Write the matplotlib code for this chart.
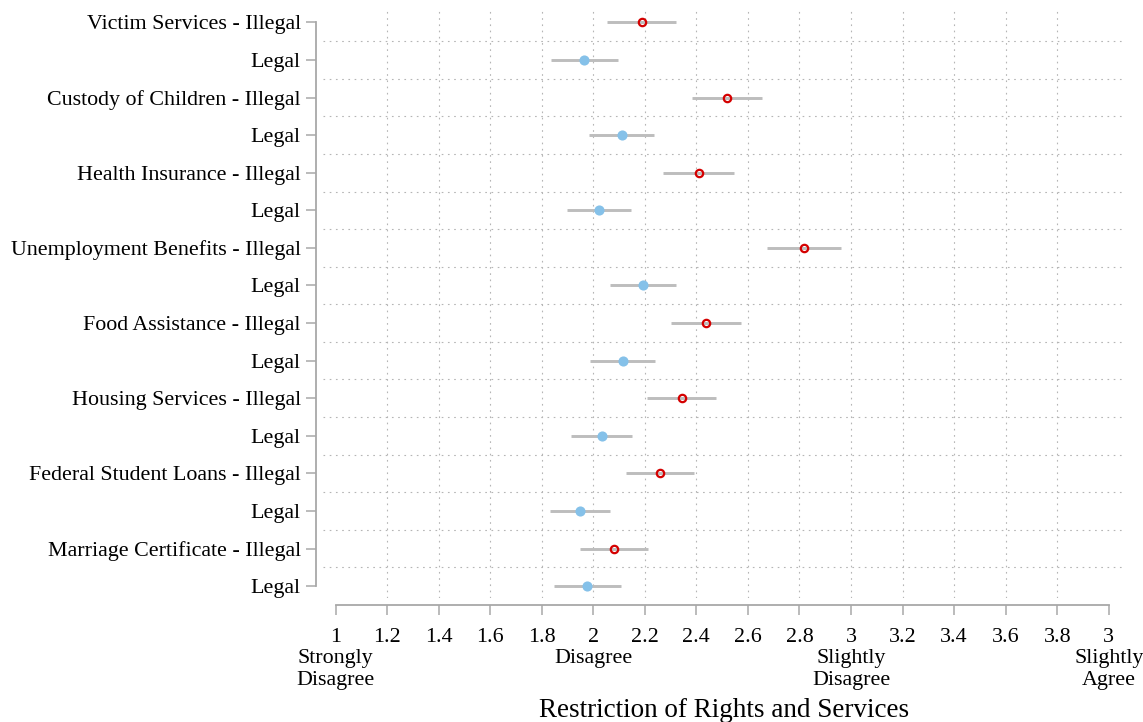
import matplotlib
matplotlib.use("Agg")
import matplotlib.pyplot as plt
import numpy as np

services = ["Victim Services", "Custody of Children", "Health Insurance",
            "Unemployment Benefits", "Food Assistance", "Housing Services",
            "Federal Student Loans", "Marriage Certificate"]
illegal_mean = [2.188, 2.519, 2.409, 2.817, 2.436, 2.343, 2.258, 2.082]
illegal_lo = [2.053, 2.382, 2.270, 2.673, 2.301, 2.210, 2.127, 1.949]
illegal_hi = [2.322, 2.656, 2.546, 2.963, 2.574, 2.477, 2.390, 2.214]
legal_mean = [1.964, 2.110, 2.021, 2.193, 2.116, 2.032, 1.950, 1.977]
legal_lo = [1.836, 1.985, 1.897, 2.065, 1.989, 1.913, 1.834, 1.849]
legal_hi = [2.095, 2.237, 2.145, 2.320, 2.240, 2.152, 2.066, 2.107]

xticks = [1, 1.2, 1.4, 1.6, 1.8, 2, 2.2, 2.4, 2.6, 2.8, 3, 3.2, 3.4, 3.6, 3.8, 4]
xticklabels = ["1\nStrongly\nDisagree", "1.2", "1.4", "1.6", "1.8", "2\nDisagree",
               "2.2", "2.4", "2.6", "2.8", "3\nSlightly\nDisagree", "3.2", "3.4",
               "3.6", "3.8", "3\nSlightly\nAgree"]
xlabel = "Restriction of Rights and Services"

plt.rcParams['font.family'] = ['Liberation Serif', 'DejaVu Serif']
plt.rcParams['font.size'] = 15.8

fig = plt.figure(figsize=(11.43, 7.22), dpi=100)
ax = fig.add_axes([323/1143, 1-598/722, (1125-323)/1143, (598-6.7)/722])

n = len(services)
ypos_ill = np.arange(n) * 2
ypos_leg = ypos_ill + 1

grey = "#bdbdbd"
red = "#d40000"
blue = "#85c1e9"

# grid
for xv in xticks[1:-1]:
    ax.axvline(xv, color="#b5b5b5", lw=0.8, ls=(0, (1.5, 4.1)), zorder=0)
for yv in np.arange(0.5, 2 * n - 1, 1.0):
    ax.axhline(yv, color="#b5b5b5", lw=0.8, ls=(0, (1.5, 4.1)), zorder=0)

ax.hlines(ypos_ill, illegal_lo, illegal_hi, color=grey, lw=2.1, zorder=2)
ax.hlines(ypos_leg, legal_lo, legal_hi, color=grey, lw=2.1, zorder=2)
ax.plot(illegal_mean, ypos_ill, 'o', ms=5.3, mfc='none', mec=red, mew=1.6, zorder=3, ls='none')
ax.plot(legal_mean, ypos_leg, 'o', ms=7.3, mfc=blue, mec=blue, mew=0, zorder=3, ls='none')

ylabels = []
for s in services:
    ylabels += [s + " - Illegal", "Legal"]
ax.set_yticks(np.arange(2 * n))
ax.set_yticklabels(ylabels)
ax.set_xticks(xticks)
ax.set_xticklabels(xticklabels, linespacing=1.15)

ax.set_xlim(0.9515, 4.063)
ax.set_ylim(15.317, -0.42)

for side in ['top', 'right']:
    ax.spines[side].set_visible(False)
spc = "#a8a8a8"
ax.spines['left'].set_position(('outward', 5))
ax.spines['bottom'].set_position(('outward', 5))
ax.spines['left'].set_bounds(0, 15)
ax.spines['bottom'].set_bounds(1, 4)
ax.spines['left'].set_color(spc)
ax.spines['bottom'].set_color(spc)
ax.spines['left'].set_linewidth(1.3)
ax.spines['bottom'].set_linewidth(1.3)
ax.tick_params(axis='both', color=spc, width=1.1, length=7, direction='out', labelsize=15.8)
ax.tick_params(axis='y', pad=4)
ax.tick_params(axis='x', pad=9.3)

ax.set_xlabel(xlabel, fontsize=19.5, labelpad=5.8)

fig.savefig("out.png", dpi=100)
